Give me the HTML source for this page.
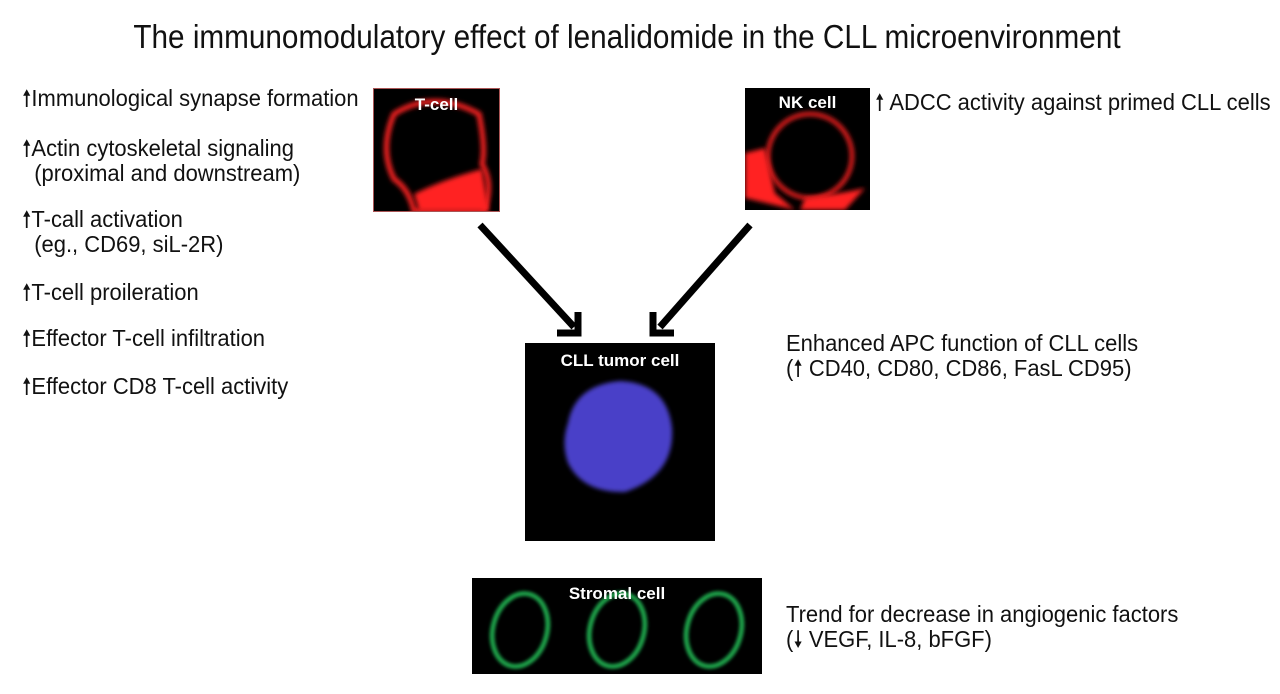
<!DOCTYPE html>
<html><head><meta charset="utf-8"><style>
body{margin:0;width:1280px;height:694px;background:#fff;position:relative;overflow:hidden;font-family:"Liberation Sans",sans-serif;color:#111}
.t{position:absolute;font-size:23px;line-height:25px;white-space:nowrap;transform:scaleX(0.955);transform-origin:0 0}
.title{position:absolute;left:-13px;width:1280px;top:18px;text-align:center;font-size:33px;transform:scaleX(0.9)}
.box{position:absolute;background:#000;overflow:hidden}
.lab{position:absolute;width:100%;text-align:center;color:#fff;font-family:"Liberation Sans",sans-serif;font-weight:bold;font-size:17px}
</style></head><body>
<div class="title">The immunomodulatory effect of lenalidomide in the CLL microenvironment</div>
<div class="t" style="left:22px;top:86px">🠕Immunological synapse formation</div>
<div class="t" style="left:22px;top:136px">🠕Actin cytoskeletal signaling<br>&nbsp;&nbsp;(proximal and downstream)</div>
<div class="t" style="left:22px;top:207px">🠕T-call activation<br>&nbsp;&nbsp;(eg., CD69, siL-2R)</div>
<div class="t" style="left:22px;top:280px">🠕T-cell proileration</div>
<div class="t" style="left:22px;top:326px">🠕Effector T-cell infiltration</div>
<div class="t" style="left:22px;top:374px">🠕Effector CD8 T-cell activity</div>
<div class="t" style="left:875px;top:90px">🠕 ADCC activity against primed CLL cells</div>
<div class="t" style="left:786px;top:331px">Enhanced APC function of CLL cells<br>(🠕 CD40, CD80, CD86, FasL CD95)</div>
<div class="t" style="left:786px;top:602px">Trend for decrease in angiogenic factors<br>(🠗 VEGF, IL-8, bFGF)</div>

<div class="box" style="left:373px;top:88px;width:125px;height:122px;border:1px solid #a55">
<svg width="125" height="122"><defs><filter id="b"><feGaussianBlur stdDeviation="2.5"/></filter></defs>
<path d="M20 25 Q60 0 105 25 Q112 60 108 75 Q120 95 110 122 L40 122 Q35 100 20 90 Q5 60 20 25Z" fill="none" stroke="#f22" stroke-width="5" filter="url(#b)"/>
<path d="M40 105 Q70 90 108 80 L115 122 L45 122Z" fill="#f22" filter="url(#b)"/></svg>
<div class="lab" style="top:6px">T-cell</div></div>

<div class="box" style="left:745px;top:88px;width:125px;height:122px">
<svg width="125" height="122"><defs><filter id="b2"><feGaussianBlur stdDeviation="2.5"/></filter></defs>
<circle cx="65" cy="68" r="42" fill="none" stroke="#f22" stroke-width="4" filter="url(#b2)"/>
<path d="M0 65 L20 60 L30 105 L50 122 L0 110Z" fill="#f22" filter="url(#b2)"/>
<path d="M60 110 Q100 105 120 100 L100 122 L55 122Z" fill="#f22" filter="url(#b2)"/></svg>
<div class="lab" style="top:5px">NK cell</div></div>

<div class="box" style="left:525px;top:343px;width:190px;height:198px">
<svg width="190" height="198"><defs><filter id="b3"><feGaussianBlur stdDeviation="2"/></filter></defs>
<path d="M43 80 Q50 42 95 38 Q142 40 147 85 Q150 132 100 149 Q58 150 43 120 Q36 100 43 80Z" fill="#4a3fc8" filter="url(#b3)"/></svg>
<div class="lab" style="top:8px">CLL tumor cell</div></div>

<div class="box" style="left:472px;top:578px;width:290px;height:96px">
<svg width="290" height="96"><defs><filter id="b4"><feGaussianBlur stdDeviation="1.5"/></filter></defs>
<g fill="none" stroke="#1fa14a" stroke-width="5" filter="url(#b4)">
<ellipse cx="48" cy="52" rx="27" ry="37" transform="rotate(15 48 52)"/>
<ellipse cx="145" cy="52" rx="27" ry="37" transform="rotate(15 145 52)"/>
<ellipse cx="242" cy="52" rx="27" ry="37" transform="rotate(15 242 52)"/></g></svg>
<div class="lab" style="top:6px">Stromal cell</div></div>

<svg style="position:absolute;left:0;top:0" width="1280" height="694">
<g stroke="#000" stroke-width="7" fill="none">
<line x1="480" y1="225" x2="574" y2="327"/>
<polyline points="578,312 578,333 557,333"/>
<line x1="750" y1="225" x2="660" y2="327"/>
<polyline points="653,312 653,333 674,333"/>
</g></svg>
</body></html>
